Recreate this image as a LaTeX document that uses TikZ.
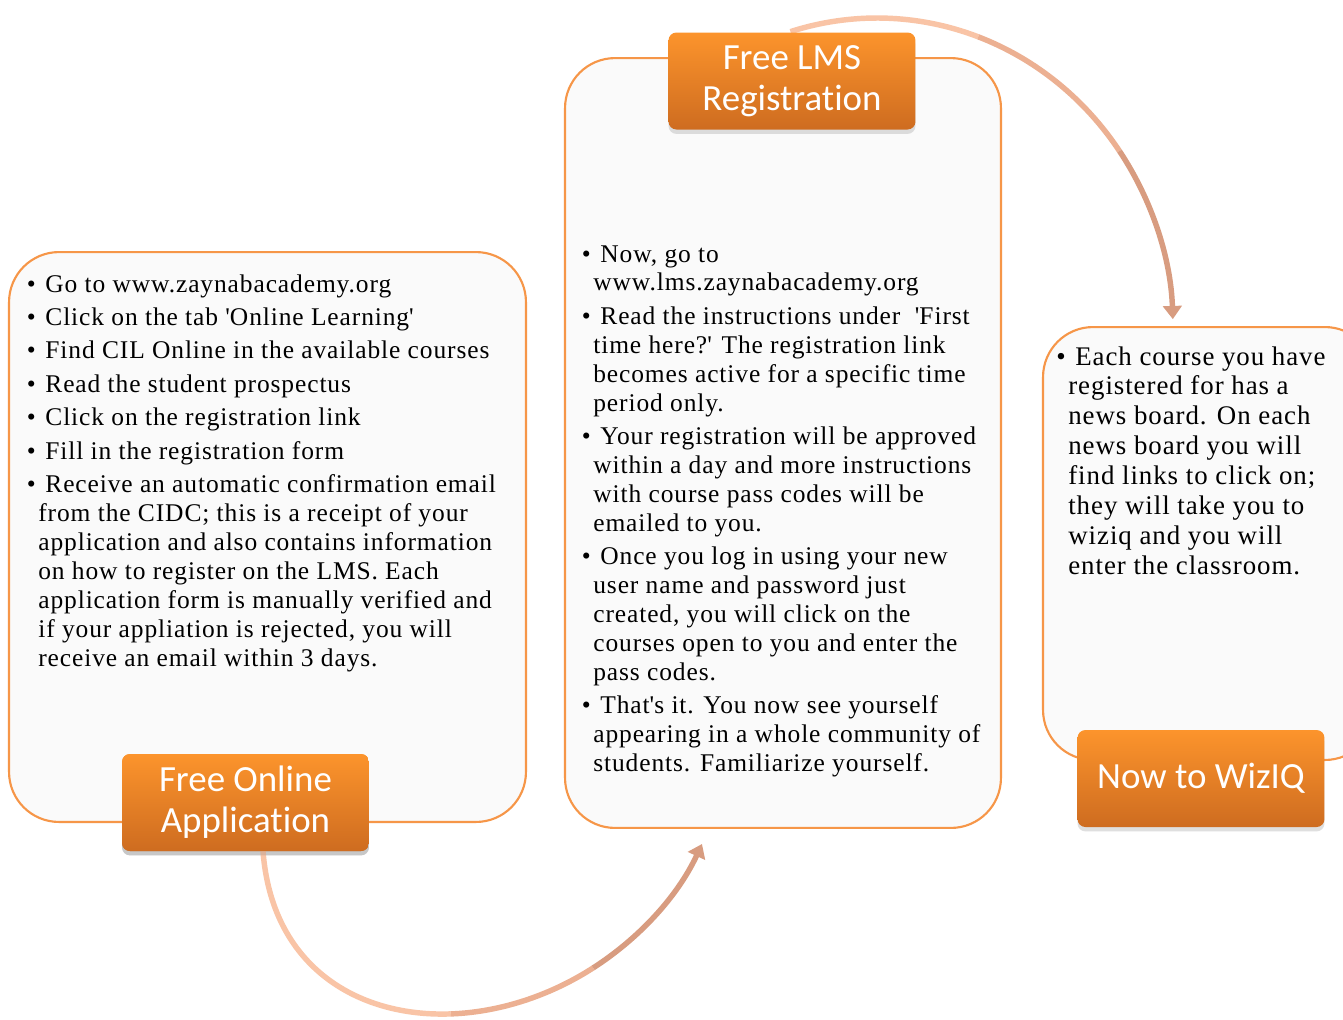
\documentclass[tikz,border=0pt]{standalone}
\usepackage{fontspec}
\setmainfont[LetterSpace=3.5]{Liberation Serif}
\newfontfamily\titlefont[Ligatures=NoCommon]{Carlito}
\usetikzlibrary{calc,shadows,arrows.meta}
\definecolor{boxline}{RGB}{246,150,72}
\definecolor{boxfill}{RGB}{250,250,250}
\definecolor{tabtop}{RGB}{252,148,44}
\definecolor{tabbot}{RGB}{206,108,32}
\definecolor{arrowa}{RGB}{249,196,166}
\definecolor{arrowb}{RGB}{236,176,146}
\definecolor{arrowc}{RGB}{216,156,128}
\newcommand\bul{\llap{\textbullet\hspace{1.5pt}}\hspace{4pt}}
\newcommand\sq{\textquotesingle}
\begin{document}
\begin{tikzpicture}[x=0.02cm,y=-0.02cm,
 panel/.style={draw=boxline, line width=1.2pt, fill=boxfill, rounded corners=1cm, inner sep=0pt},
 tab/.style={rounded corners=4.5pt, top color=tabtop, bottom color=tabbot, draw=none,
   drop shadow={opacity=0.25,shadow xshift=0pt,shadow yshift=-2.5pt}, text=white,
   font=\titlefont\fontsize{21}{23.3}\selectfont, align=center,
   minimum width=4.94cm, minimum height=1.94cm, inner sep=0pt},
 body/.style={anchor=north west, align=left, inner sep=0pt, font=\fontsize{14.5}{16.45}\selectfont},
 flowseg/.style={line width=3.1pt},
 flow/.style={line width=3.1pt, -{Triangle[width=10.5pt,length=7.5pt]}}
]
\useasboundingbox (0,0) rectangle (1343,1019);
\fill[white] (0,0) rectangle (1343,1019);

% panels
\node[panel, minimum width=10.34cm, minimum height=11.4cm] (box1) at (267.5,537) {};
\node[panel, minimum width=8.72cm, minimum height=15.4cm] (box2) at (783,443) {};
\node[panel, minimum width=6.64cm, minimum height=8.66cm] (box3) at (1209,543.5) {};

% tabs
\node[tab] (tab1) at (245.5,802.5) {Free Online\\Application};
\node[tab] (tab3) at (1201,778.5) {Now to WizIQ};

% connector 1: Free Online Application -> Free LMS Registration panel
\coordinate (a1s) at (263,851);
\coordinate (a1m) at (450.75,1013.9);
\coordinate (a1n) at (593.19,967.85);
\coordinate (a1e) at ($(box2.south west)+(138,15)$);
\draw[flowseg, draw=arrowa] (a1s) .. controls (271.5,965) and (355.75,1017.25) .. (a1m);
\draw[flowseg, draw=arrowb] (a1m) .. controls (498.25,1012.2) and (548.44,996.6) .. (a1n);
\draw[flow, draw=arrowc] (a1n) .. controls (637.94,939.1) and (677.25,897.25) .. (a1e);

% connector 2: Free LMS Registration -> WizIQ panel
\coordinate (a2c) at (877,330);
\coordinate (a2s) at ($(a2c)+({296*cos(-107)},{312*sin(-107)})$);
\draw[flowseg, draw=arrowa] (a2s) arc[start angle=-107, end angle=-70, x radius=296, y radius=312] coordinate (a2p);
\draw[flowseg, draw=arrowb] (a2p) arc[start angle=-70, end angle=-35, x radius=296, y radius=312] coordinate (a2q);
\draw[flow, draw=arrowc] (a2q) arc[start angle=-35, end angle=-2, x radius=296, y radius=312];

\node[tab] (tab2) at (792,81) {Free LMS\\Registration};
\node[tab] at (tab1) {Free Online\\Application};

% texts
\node[body] (t1) at (38,274) {%
\bul Go to www.zaynabacademy.org\\[2.6pt]
\bul Click on the tab \sq Online Learning\sq\\[2.6pt]
\bul Find CIL Online in the available courses\\[2.6pt]
\bul Read the student prospectus\\[2.6pt]
\bul Click on the registration link\\[2.6pt]
\bul Fill in the registration form\\[2.6pt]
\bul Receive an automatic confirmation email\\
from the CIDC; this is a receipt of your\\
application and also contains information\\
on how to register on the LMS. Each\\
application form is manually verified and\\
if your appliation is rejected, you will\\
receive an email within 3 days.};

\node[body] (t2) at (593,245) {%
\bul Now, go to\\
www.lms.zaynabacademy.org\\[2.6pt]
\bul Read the instructions under\ \ \sq First\\
time here?\sq{} The registration link\\
becomes active for a specific time\\
period only.\\[2.6pt]
\bul Your registration will be approved\\
within a day and more instructions\\
with course pass codes will be\\
emailed to you.\\[2.6pt]
\bul Once you log in using your new\\
user name and password just\\
created, you will click on the\\
courses open to you and enter the\\
pass codes.\\[2.6pt]
\bul That\sq s it. You now see yourself\\
appearing in a whole community of\\
students. Familiarize yourself.};

\node[body, font=\fontsize{15.3}{17}\selectfont] (t3) at (1068,346) {%
\bul Each course you have\\
registered for has a\\
news board. On each\\
news board you will\\
find links to click on;\\
they will take you to\\
wiziq and you will\\
enter the classroom.};
\end{tikzpicture}
\end{document}
